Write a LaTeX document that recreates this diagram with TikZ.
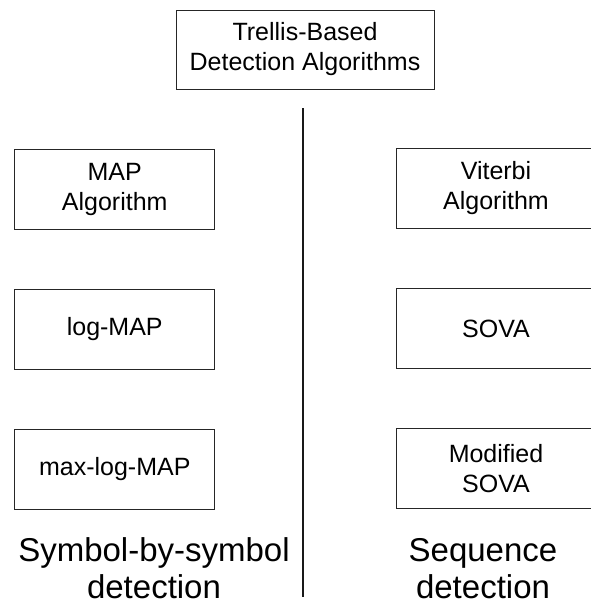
\documentclass[tikz,border=0pt]{standalone}
\usepackage{fontspec}
\setmainfont{Liberation Sans}
\begin{document}
\begin{tikzpicture}[x=1pt,y=-1pt,
  algbox/.style={draw=black!85, line width=1pt, align=center, inner sep=0pt,
    font=\fontsize{25}{30}\selectfont},
  sidebox/.style={algbox, minimum width=200pt, minimum height=80pt},
  biglabel/.style={align=center, inner sep=0pt, font=\fontsize{33}{37}\selectfont}]
\useasboundingbox (0,0) rectangle (590,606);
\node[algbox, minimum width=258pt, minimum height=79pt] (top) at (305,49.5) {Trellis-Based\\Detection Algorithms};
\node[sidebox] (map) at (114.75,189) {MAP\\Algorithm};
\node[sidebox] (logmap) at (114.75,329) {log-MAP};
\node[sidebox] (maxlog) at (114.75,469) {max-log-MAP};
\node[sidebox] (vit) at (496,188.5) {Viterbi\\Algorithm};
\node[sidebox] (sova) at (496,328.5) {SOVA};
\node[sidebox] (msova) at (496,468.5) {Modified\\SOVA};
\coordinate (ltop) at (303,108);
\coordinate (lbot) at (303,597);
\draw[line width=2.7pt, black!90] (ltop) -- (lbot);
\node[biglabel, anchor=base] (symlab) at (154,598) {Symbol-by-symbol\\detection};
\node[biglabel, anchor=base] (seqlab) at (483,598) {Sequence\\detection};
\end{tikzpicture}
\end{document}
